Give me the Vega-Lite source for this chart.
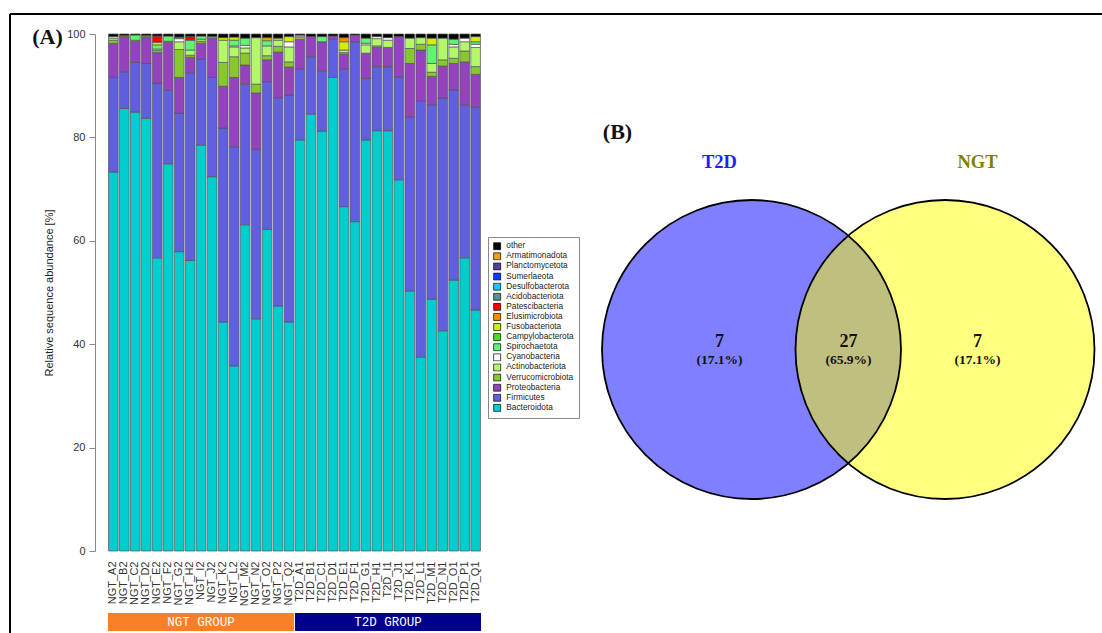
{
  "$schema": "https://vega.github.io/schema/vega-lite/v6.json",
  "width": 1092,
  "height": 619,
  "autosize": {"type": "none"},
  "padding": {"left": 10, "top": 14, "right": 0, "bottom": 0},
  "background": "white",
  "config": {"view": {"stroke": null}},
  "resolve": {
    "scale": {"x": "independent", "y": "independent", "color": "independent", "fill": "independent"},
    "axis": {"x": "independent", "y": "independent"},
    "legend": {"color": "independent", "fill": "independent"}
  },
  "layer": [
    {
      "data": {"values": [{"frame": "top"}]},
      "mark": {"type": "rule", "color": "black", "strokeWidth": 2},
      "encoding": {"y": {"datum": 1, "type": "quantitative", "scale": {"domain": [0, 1]}, "axis": null}}
    },
    {
      "data": {"values": [{"frame": "left"}]},
      "mark": {"type": "rule", "color": "black", "strokeWidth": 2},
      "encoding": {"x": {"datum": 0, "type": "quantitative", "scale": {"domain": [0, 1]}, "axis": null}}
    },
    {
      "data": {"values": [
        {"sample":"NGT_A2","Bacteroidota":73.3,"Firmicutes":18.3,"Proteobacteria":6.6,"Verrucomicrobiota":0.6,"Actinobacteriota":0.4,"Cyanobacteria":0.3,"other":0.5},
        {"sample":"NGT_B2","Bacteroidota":85.6,"Firmicutes":7.1,"Proteobacteria":6.8,"Verrucomicrobiota":0.2,"other":0.3},
        {"sample":"NGT_C2","Bacteroidota":84.9,"Firmicutes":9.6,"Proteobacteria":4.1,"Verrucomicrobiota":0.2,"Spirochaetota":1.0,"other":0.2},
        {"sample":"NGT_D2","Bacteroidota":83.7,"Firmicutes":10.6,"Proteobacteria":5.0,"Verrucomicrobiota":0.2,"Actinobacteriota":0.2,"other":0.3},
        {"sample":"NGT_E2","Bacteroidota":56.7,"Firmicutes":33.8,"Proteobacteria":5.9,"Verrucomicrobiota":0.4,"Actinobacteriota":0.3,"Spirochaetota":0.8,"Fusobacteriota":0.5,"Patescibacteria":1.2,"other":0.4},
        {"sample":"NGT_F2","Bacteroidota":74.9,"Firmicutes":14.2,"Proteobacteria":9.3,"Verrucomicrobiota":0.2,"Spirochaetota":1.0,"other":0.4},
        {"sample":"NGT_G2","Bacteroidota":57.9,"Firmicutes":26.8,"Proteobacteria":6.9,"Verrucomicrobiota":5.4,"Actinobacteriota":1.5,"Cyanobacteria":0.6,"Acidobacteriota":0.3,"other":0.6},
        {"sample":"NGT_H2","Bacteroidota":56.2,"Firmicutes":36.3,"Proteobacteria":3.0,"Verrucomicrobiota":0.4,"Actinobacteriota":1.0,"Spirochaetota":1.9,"Patescibacteria":0.7,"other":0.5},
        {"sample":"NGT_I2","Bacteroidota":78.5,"Firmicutes":16.6,"Proteobacteria":3.1,"Verrucomicrobiota":0.4,"Actinobacteriota":0.4,"Spirochaetota":0.6,"other":0.4},
        {"sample":"NGT_J2","Bacteroidota":72.4,"Firmicutes":19.2,"Proteobacteria":7.6,"Verrucomicrobiota":0.3,"other":0.5},
        {"sample":"NGT_K2","Bacteroidota":44.3,"Firmicutes":37.5,"Proteobacteria":8.1,"Verrucomicrobiota":4.6,"Actinobacteriota":4.3,"Fusobacteriota":0.5,"other":0.7},
        {"sample":"NGT_L2","Bacteroidota":35.8,"Firmicutes":42.4,"Proteobacteria":13.4,"Verrucomicrobiota":4.0,"Actinobacteriota":1.9,"Cyanobacteria":0.2,"Spirochaetota":1.1,"Fusobacteriota":0.6,"other":0.6},
        {"sample":"NGT_M2","Bacteroidota":63.1,"Firmicutes":27.2,"Proteobacteria":3.7,"Verrucomicrobiota":2.3,"Actinobacteriota":1.0,"Cyanobacteria":0.5,"Spirochaetota":1.4,"other":0.8},
        {"sample":"NGT_N2","Bacteroidota":44.9,"Firmicutes":32.8,"Proteobacteria":10.9,"Verrucomicrobiota":1.7,"Actinobacteriota":9.0,"other":0.7},
        {"sample":"NGT_O2","Bacteroidota":62.2,"Firmicutes":28.6,"Proteobacteria":4.2,"Verrucomicrobiota":0.8,"Actinobacteriota":1.9,"Spirochaetota":1.0,"Armatimonadota":0.6,"other":0.7},
        {"sample":"NGT_P2","Bacteroidota":47.4,"Firmicutes":40.3,"Proteobacteria":8.8,"Verrucomicrobiota":1.1,"Actinobacteriota":1.2,"Fusobacteriota":0.4,"other":0.8},
        {"sample":"NGT_Q2","Bacteroidota":44.3,"Firmicutes":43.9,"Proteobacteria":5.4,"Verrucomicrobiota":1.0,"Actinobacteriota":2.9,"Cyanobacteria":1.0,"Fusobacteriota":1.0,"other":0.5},
        {"sample":"T2D_A1","Bacteroidota":79.5,"Firmicutes":13.7,"Proteobacteria":5.8,"Actinobacteriota":0.3,"Cyanobacteria":0.3,"Fusobacteriota":0.2,"other":0.2},
        {"sample":"T2D_B1","Bacteroidota":84.5,"Firmicutes":11.1,"Proteobacteria":3.9,"other":0.5},
        {"sample":"T2D_C1","Bacteroidota":81.2,"Firmicutes":11.7,"Proteobacteria":5.6,"Spirochaetota":1.0,"other":0.5},
        {"sample":"T2D_D1","Bacteroidota":91.6,"Firmicutes":7.4,"Proteobacteria":0.6,"other":0.4},
        {"sample":"T2D_E1","Bacteroidota":66.6,"Firmicutes":26.6,"Proteobacteria":2.9,"Verrucomicrobiota":0.3,"Actinobacteriota":0.5,"Fusobacteriota":1.6,"Elusimicrobiota":0.8,"other":0.7},
        {"sample":"T2D_F1","Bacteroidota":63.7,"Firmicutes":34.8,"Proteobacteria":1.3,"other":0.2},
        {"sample":"T2D_G1","Bacteroidota":79.5,"Firmicutes":11.9,"Proteobacteria":4.9,"Actinobacteriota":1.6,"Cyanobacteria":0.3,"Spirochaetota":1.0,"other":0.8},
        {"sample":"T2D_H1","Bacteroidota":81.3,"Firmicutes":12.4,"Proteobacteria":3.7,"Verrucomicrobiota":0.3,"Actinobacteriota":1.4,"Cyanobacteria":0.4,"other":0.5},
        {"sample":"T2D_I1","Bacteroidota":81.3,"Firmicutes":12.4,"Proteobacteria":3.7,"Actinobacteriota":1.4,"Cyanobacteria":0.5,"other":0.7},
        {"sample":"T2D_J1","Bacteroidota":71.8,"Firmicutes":19.9,"Proteobacteria":7.8,"other":0.5},
        {"sample":"T2D_K1","Bacteroidota":50.3,"Firmicutes":33.6,"Proteobacteria":10.4,"Verrucomicrobiota":2.9,"Actinobacteriota":2.0,"other":0.8},
        {"sample":"T2D_L1","Bacteroidota":37.5,"Firmicutes":49.5,"Proteobacteria":9.9,"Verrucomicrobiota":1.1,"Actinobacteriota":1.3,"other":0.7},
        {"sample":"T2D_M1","Bacteroidota":48.7,"Firmicutes":37.6,"Proteobacteria":5.5,"Verrucomicrobiota":0.8,"Actinobacteriota":1.7,"Spirochaetota":3.6,"Fusobacteriota":1.3,"other":0.8},
        {"sample":"T2D_N1","Bacteroidota":42.6,"Firmicutes":45.0,"Proteobacteria":6.2,"Verrucomicrobiota":1.2,"Actinobacteriota":4.2,"other":0.8},
        {"sample":"T2D_O1","Bacteroidota":52.4,"Firmicutes":36.8,"Proteobacteria":5.1,"Verrucomicrobiota":1.0,"Actinobacteriota":2.2,"Cyanobacteria":0.5,"Spirochaetota":1.0,"other":1.0},
        {"sample":"T2D_P1","Bacteroidota":56.7,"Firmicutes":29.6,"Proteobacteria":8.3,"Verrucomicrobiota":2.1,"Actinobacteriota":1.8,"Cyanobacteria":0.7,"other":0.8},
        {"sample":"T2D_Q1","Bacteroidota":46.6,"Firmicutes":39.3,"Proteobacteria":6.3,"Verrucomicrobiota":1.5,"Actinobacteriota":3.7,"Cyanobacteria":0.6,"Spirochaetota":0.5,"Fusobacteriota":1.0,"other":0.5}
      ]},
      "transform": [
        {"fold": ["Bacteroidota","Firmicutes","Proteobacteria","Verrucomicrobiota","Actinobacteriota","Cyanobacteria","Spirochaetota","Campylobacterota","Fusobacteriota","Elusimicrobiota","Patescibacteria","Acidobacteriota","Desulfobacterota","Sumerlaeota","Planctomycetota","Armatimonadota","other"], "as": ["phylum", "pct"]},
        {"filter": "isValid(datum.pct) && datum.pct > 0"},
        {"calculate": "indexof(['Bacteroidota','Firmicutes','Proteobacteria','Verrucomicrobiota','Actinobacteriota','Cyanobacteria','Spirochaetota','Campylobacterota','Fusobacteriota','Elusimicrobiota','Patescibacteria','Acidobacteriota','Desulfobacterota','Sumerlaeota','Planctomycetota','Armatimonadota','other'], datum.phylum)", "as": "stackRank"}
      ],
      "mark": {"type": "bar", "stroke": "#555555", "strokeWidth": 0.7},
      "encoding": {
        "x": {
          "field": "sample", "type": "nominal", "sort": null,
          "scale": {"type": "band", "range": [98, 471], "paddingInner": 0.12, "paddingOuter": 0.05},
          "axis": {"title": null, "orient": "bottom", "offset": -82, "domain": false, "ticks": false, "tickSize": 0, "labelAngle": -90, "labelAlign": "right", "labelBaseline": "middle", "labelPadding": 10, "labelFont": "Liberation Sans", "labelFontSize": 11, "labelColor": "#333333", "labelOverlap": false}
        },
        "y": {
          "field": "pct", "type": "quantitative", "stack": "zero",
          "scale": {"domain": [0, 100], "range": [537, 20], "nice": false},
          "axis": {"title": "Relative sequence abundance [%]", "orient": "left", "offset": -85, "values": [0, 20, 40, 60, 80, 100], "grid": false, "tickSize": 6, "labelPadding": 4, "domainColor": "#888888", "tickColor": "#888888", "labelFont": "Liberation Sans", "labelFontSize": 11, "labelColor": "#333333", "labelFlush": false, "labelOverlap": false, "titleFont": "Liberation Sans", "titleFontSize": 11, "titleFontWeight": "normal", "titleColor": "#222222", "titlePadding": 12}
        },
        "color": {
          "field": "phylum", "type": "nominal",
          "scale": {
            "domain": ["other","Armatimonadota","Planctomycetota","Sumerlaeota","Desulfobacterota","Acidobacteriota","Patescibacteria","Elusimicrobiota","Fusobacteriota","Campylobacterota","Spirochaetota","Cyanobacteria","Actinobacteriota","Verrucomicrobiota","Proteobacteria","Firmicutes","Bacteroidota"],
            "range": ["#000000","#F0A30A","#5A3E9E","#0A3CFF","#1EC8F0","#5F9090","#FF0000","#FF8C00","#D2F000","#3CE61E","#5EF573","#FFFFFF","#B3F76B","#86C82D","#9442BE","#5F5FDF","#00CDCD"]
          },
          "legend": {"orient": "none", "legendX": 478, "legendY": 223, "title": null, "symbolType": "square", "symbolSize": 49, "symbolStrokeColor": "#000000", "symbolStrokeWidth": 0.7, "labelFont": "Liberation Sans", "labelFontSize": 8.3, "labelColor": "#222222", "labelOffset": 5, "clipHeight": 8.5, "rowPadding": 0.1, "padding": 5, "strokeColor": "#888888", "labelLimit": 200}
        },
        "order": {"field": "stackRank", "type": "quantitative"}
      }
    },
    {
      "data": {"values": [{"group": "NGT", "label": "NGT GROUP"}, {"group": "T2D", "label": "T2D GROUP"}]},
      "encoding": {
        "x": {"field": "group", "type": "nominal", "sort": null, "scale": {"type": "band", "range": [98, 471], "paddingInner": 0.005, "paddingOuter": 0}, "axis": null}
      },
      "layer": [
        {
          "mark": {"type": "bar"},
          "encoding": {
            "y": {"datum": -12.0, "type": "quantitative", "scale": {"domain": [0, 100], "range": [537, 20], "nice": false}, "axis": null},
            "y2": {"datum": -15.45},
            "color": {"field": "group", "type": "nominal", "scale": {"domain": ["NGT", "T2D"], "range": ["#FA7F26", "#00008F"]}, "legend": null}
          }
        },
        {
          "mark": {"type": "text", "font": "Liberation Mono", "fontSize": 12.5, "color": "white", "baseline": "middle", "align": "center"},
          "encoding": {
            "y": {"datum": -13.75, "type": "quantitative", "scale": {"domain": [0, 100], "range": [537, 20], "nice": false}, "axis": null},
            "text": {"field": "label"}
          }
        }
      ]
    },
    {
      "data": {"values": [{"set": "T2D"}, {"set": "NGT"}]},
      "encoding": {
        "x": {"field": "set", "type": "nominal", "sort": null, "scale": {"type": "point", "domain": ["T2D", "NGT"], "range": [741.5, 935], "padding": 0}, "axis": null},
        "y": {"datum": 0, "type": "quantitative", "scale": {"domain": [-1, 1], "range": [485, 186], "nice": false}, "axis": null}
      },
      "layer": [
        {
          "mark": {"type": "point", "shape": "circle", "filled": true, "size": 89401, "opacity": 1, "fillOpacity": 0.5, "strokeWidth": 0},
          "encoding": {
            "fill": {"field": "set", "type": "nominal", "scale": {"domain": ["T2D", "NGT"], "range": ["#0000FF", "#FFFF00"]}, "legend": null}
          }
        },
        {
          "mark": {"type": "point", "shape": "circle", "filled": false, "size": 89401, "opacity": 1, "stroke": "#000000", "strokeWidth": 1.8}
        }
      ]
    },
    {
      "data": {"values": [{"set": "T2D"}, {"set": "NGT"}]},
      "mark": {"type": "text", "font": "Liberation Serif", "fontWeight": "bold", "fontSize": 18.5, "baseline": "alphabetic", "align": "center"},
      "encoding": {
        "x": {"field": "set", "type": "nominal", "sort": null, "scale": {"type": "point", "domain": ["T2D", "NGT"], "range": [709.5, 967.5], "padding": 0}, "axis": null},
        "y": {"datum": 1.214, "type": "quantitative", "scale": {"domain": [-1, 1], "range": [485, 186], "nice": false}, "axis": null},
        "text": {"field": "set"},
        "color": {"field": "set", "type": "nominal", "scale": {"domain": ["T2D", "NGT"], "range": ["#1F1FFF", "#808000"]}, "legend": null}
      }
    },
    {
      "data": {"values": [
        {"region": "T2D only", "n": 7, "share": "(17.1%)"},
        {"region": "T2D and NGT", "n": 27, "share": "(65.9%)"},
        {"region": "NGT only", "n": 7, "share": "(17.1%)"}
      ]},
      "encoding": {
        "x": {"field": "region", "type": "nominal", "sort": null, "scale": {"type": "point", "range": [709.5, 967.5], "padding": 0}, "axis": null}
      },
      "layer": [
        {
          "mark": {"type": "text", "font": "Liberation Serif", "fontWeight": "bold", "fontSize": 18, "baseline": "alphabetic", "align": "center", "color": "#111111"},
          "encoding": {
            "y": {"datum": 0.0167, "type": "quantitative", "scale": {"domain": [-1, 1], "range": [485, 186], "nice": false}, "axis": null},
            "text": {"field": "n"}
          }
        },
        {
          "mark": {"type": "text", "font": "Liberation Serif", "fontWeight": "bold", "fontSize": 13.5, "baseline": "alphabetic", "align": "center", "color": "#111111"},
          "encoding": {
            "y": {"datum": -0.097, "type": "quantitative", "scale": {"domain": [-1, 1], "range": [485, 186], "nice": false}, "axis": null},
            "text": {"field": "share"}
          }
        }
      ]
    },
    {
      "data": {"values": [{"panel": "(A)"}, {"panel": "(B)"}]},
      "mark": {"type": "text", "font": "Liberation Serif", "fontWeight": "bold", "fontSize": 22, "baseline": "alphabetic", "align": "center", "color": "#111111"},
      "encoding": {
        "x": {"field": "panel", "type": "nominal", "sort": null, "scale": {"type": "point", "range": [37.5, 607.5], "padding": 0}, "axis": null},
        "y": {"field": "panel", "type": "nominal", "sort": null, "scale": {"type": "point", "range": [30, 124.5], "padding": 0}, "axis": null},
        "text": {"field": "panel"}
      }
    }
  ]
}
